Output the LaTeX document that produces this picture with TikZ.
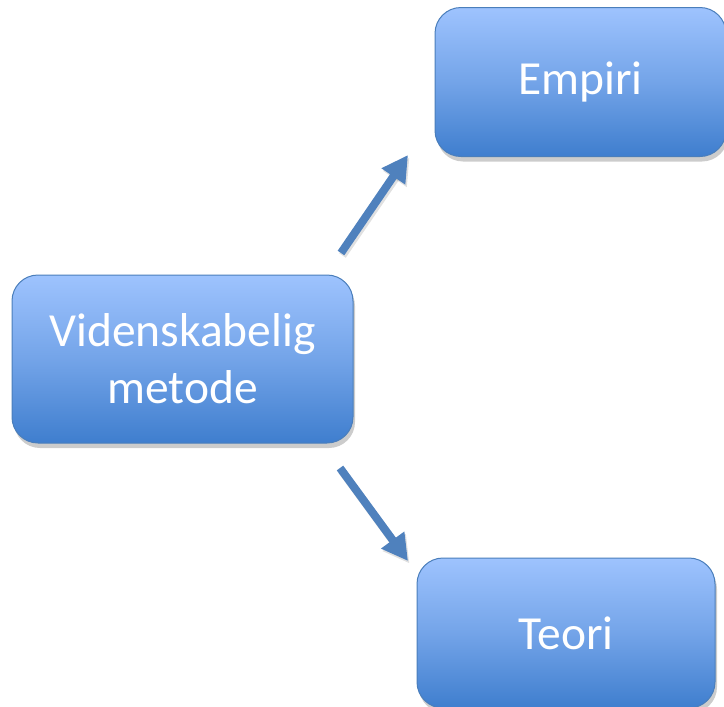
\documentclass[tikz,border=0pt]{standalone}
\usepackage{fontspec}
\setmainfont{Carlito}
\usetikzlibrary{arrows.meta,shadows}
\definecolor{boxtop}{HTML}{9EC3FE}
\definecolor{boxbot}{HTML}{3F7ECE}
\definecolor{boxline}{HTML}{4A7EBB}
\definecolor{arrowcol}{HTML}{4F81BD}
\begin{document}
\begin{tikzpicture}[x=1pt,y=-1pt,
  box/.style={rectangle, rounded corners=26pt, draw=boxline, line width=1pt,
    top color=boxtop, bottom color=boxbot, middle color=boxtop!55!boxbot,
    text=white, align=center, inner sep=0pt,
    font=\fontsize{47.5}{57}\selectfont,
    drop shadow={shadow xshift=2pt, shadow yshift=-5pt, fill=black, opacity=0.2}},
  arr/.style={draw=arrowcol, line width=8pt,
    -{Triangle[length=26pt,width=27pt]},
    preaction={draw=black, opacity=0.12, line width=8pt, transform canvas={xshift=1.5pt,yshift=-2.5pt}, -{Triangle[length=26pt,width=27pt]}}}
]
\useasboundingbox (0,0) rectangle (724,707);
\node[box, minimum width=341pt, minimum height=168pt] (vm) at (182.5,359) {Videnskabelig\\metode};
\node[box, minimum width=291pt, minimum height=149pt] (emp) at (580.5,82) {Empiri};
\node[box, minimum width=298pt, minimum height=150pt] (teo) at (566,633) {Teori};
\coordinate (a1s) at (341,253);
\coordinate (a1e) at (408,155);
\coordinate (a2s) at (340,468);
\coordinate (a2e) at (408,561);
\draw[arr] (a1s) -- (a1e);
\draw[arr] (a2s) -- (a2e);
\end{tikzpicture}
\end{document}
